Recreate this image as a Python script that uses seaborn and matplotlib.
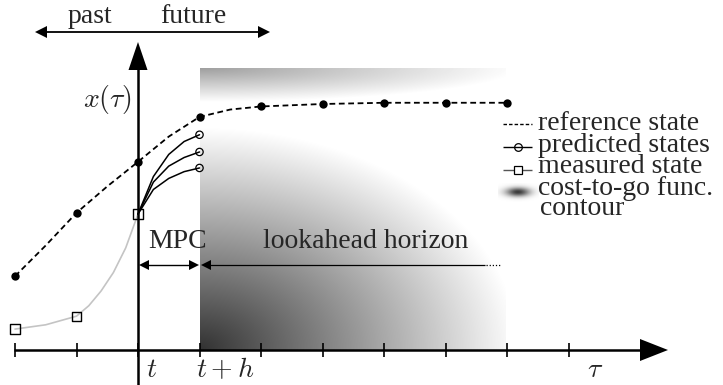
import numpy as np
import matplotlib
matplotlib.use("Agg")
import matplotlib.pyplot as plt
from matplotlib.lines import Line2D
from matplotlib.patches import Polygon
from matplotlib.transforms import Affine2D
import seaborn as sns

# ---- data: time in sampling steps relative to t, state in arbitrary units ----
ref_tau = [-2, -1, 0, 1, 2, 3, 4, 5, 6]
ref_state = [1.20, 2.23, 3.06, 3.79, 3.96, 4.00, 4.02, 4.02, 4.02]
ref_curve_tau = [-2, -1.5, -1, -0.5, 0, 0.5, 1, 1.5, 2, 3, 4, 5, 6]
ref_curve_state = [1.20, 1.70, 2.23, 2.66, 3.06, 3.47, 3.79, 3.91, 3.96, 4.00, 4.02, 4.02, 4.02]

pred_tau = [0, 0.25, 0.5, 0.75, 1]
pred_high = [2.21, 2.82, 3.18, 3.39, 3.50]
pred_mid = [2.21, 2.73, 2.99, 3.13, 3.22]
pred_low = [2.21, 2.61, 2.79, 2.90, 2.96]

meas_tau = [-2, -1, 0]
meas_state = [0.34, 0.55, 2.21]
meas_curve_tau = [-2, -1.5, -1, -0.8, -0.6, -0.4, -0.2, 0]
meas_curve_state = [0.34, 0.41, 0.55, 0.72, 0.96, 1.26, 1.66, 2.21]

tick_tau = [-2, -1, 0, 1, 2, 3, 4, 5, 6, 7]

legend_labels = ["reference state", "predicted states", "measured state",
                 "cost-to-go func.", "contour"]

# ---- figure setup ----
sns.set_theme(style="white")
plt.rcParams["font.family"] = ["Liberation Serif", "DejaVu Serif"]
plt.rcParams["mathtext.fontset"] = "cm"

W, H = 723, 385
fig = plt.figure(figsize=(W / 100, H / 100), dpi=100)
ax = fig.add_axes([0, 0, 1, 1])
ax.axis("off")

# one time step = 61.5 px; origin (t, 0) sits at pixel (138, 350)
STEP, OX, OY = 61.5, 138, 350
def X(p):
    return (p - OX) / STEP
def Y(p):
    return (OY - p) / STEP

# pixel transform (y down) for annotations
pix = Affine2D().scale(1 / W, -1 / H).translate(0, 1) + fig.transFigure

def seg(x0, y0, x1, y1, lw=1.0, color="black", ls="-", z=6):
    ax.add_line(Line2D([x0, x1], [y0, y1], transform=pix, lw=lw, color=color,
                       ls=ls, zorder=z, clip_on=False, solid_capstyle="butt"))

def head(tx, ty, dx, dy, length, width, z=7):
    n = np.hypot(dx, dy)
    ux, uy = dx / n, dy / n
    bx, by = tx - ux * length, ty - uy * length
    px_, py_ = -uy * width / 2, ux * width / 2
    ax.add_patch(Polygon([[tx, ty], [bx + px_, by + py_], [bx - px_, by - py_]],
                         closed=True, transform=pix, color="black", lw=0,
                         zorder=z, clip_on=False))

# ---- cost-to-go gradient ----
xs = np.arange(200, 506) + 0.5
ys = np.arange(68, 350) + 0.5
GX, GY = np.meshgrid(xs, ys)
main = 50 + 205 * np.sqrt(((GX - 200) / 320) ** 2 + ((GY - 350) / 222) ** 2)
strip = 158 + 97 * np.sqrt(((GX - 200) / 320) ** 2 + ((GY - 68) / 34) ** 2)
img = np.clip(np.minimum(main, strip), 0, 255)
ax.imshow(img, cmap="gray", vmin=0, vmax=255, aspect="auto", origin="upper",
          interpolation="bilinear", extent=(X(200), X(506), Y(350), Y(68)), zorder=0)

# ---- trajectories ----
sns.lineplot(x=meas_curve_tau, y=meas_curve_state, ax=ax, color="#c4c4c4", lw=1.2,
             sort=False, zorder=3)
sns.lineplot(x=ref_curve_tau, y=ref_curve_state, ax=ax, color="black", lw=1.3,
             linestyle=(0, (3.2, 2.0)), sort=False, zorder=3)
for pv in (pred_high, pred_mid, pred_low):
    sns.lineplot(x=pred_tau, y=pv, ax=ax, color="black", lw=1.1, sort=False, zorder=3)

sns.scatterplot(x=ref_tau, y=ref_state, ax=ax, color="black", s=36, linewidth=0, zorder=5)
sns.scatterplot(x=[pred_tau[-1]] * 3, y=[pred_high[-1], pred_mid[-1], pred_low[-1]],
                ax=ax, marker="o", s=28, zorder=5)
ax.collections[-1].set_facecolor("none")
ax.collections[-1].set_edgecolor("black")
ax.collections[-1].set_linewidth(0.9)
sns.scatterplot(x=meas_tau, y=meas_state, ax=ax, marker="s", s=44, zorder=5)
ax.collections[-1].set_facecolor("none")
ax.collections[-1].set_edgecolor("black")
ax.collections[-1].set_linewidth(1.0)

# ---- axes drawn as arrows ----
seg(14, 350, 642, 350, lw=1.8, z=6)
head(668, 350, 1, 0, 28, 22)
ax.vlines(tick_tau, -7 / STEP, 7 / STEP, color="black", lw=1.2, zorder=6)
seg(138, 385, 138, 68, lw=1.8, z=6)
head(138, 42, 0, -1, 28, 19)

# past / future arrow
seg(45, 32, 260, 32, lw=1.3)
head(35, 32, -1, 0, 12, 12)
head(270, 32, 1, 0, 12, 12)
ax.text(89.5, 23, "past", transform=pix, fontsize=20, ha="center", va="baseline")
ax.text(193.5, 23, "future", transform=pix, fontsize=20, ha="center", va="baseline")

# MPC and lookahead arrows
seg(147, 265, 191, 265, lw=1.0)
head(139, 265, -1, 0, 10, 10)
head(199, 265, 1, 0, 10, 10)
seg(208, 265, 485, 265, lw=0.9)
head(201, 265, -1, 0, 10, 10)
seg(486, 265, 500, 265, lw=0.9, ls=(0, (1, 1.5)))
ax.text(178, 248, "MPC", transform=pix, fontsize=20, ha="center", va="baseline")
ax.text(263, 248, "lookahead horizon", transform=pix, fontsize=20, ha="left",
        va="baseline")

# axis labels
ax.text(132, 100, r"$x(\tau)$", transform=pix, fontsize=20, ha="right", va="center")
ax.text(146, 377, r"$t$", transform=pix, fontsize=20, ha="left", va="baseline")
ax.text(196, 377, r"$t+h$", transform=pix, fontsize=20, ha="left", va="baseline")
ax.text(595, 377, r"$\tau$", transform=pix, fontsize=20, ha="center", va="baseline")

# ---- legend ----
seg(503, 124, 532, 124, lw=1.0, ls=(0, (2.5, 1.5)))
seg(503, 147, 532, 147, lw=1.0)
ax.add_line(Line2D([518], [147], transform=pix, marker="o", ms=5.5, mfc="none",
                   mec="black", mew=0.9, ls="none", zorder=7, clip_on=False))
seg(503, 170, 532, 170, lw=1.0, color="#555555")
ax.add_line(Line2D([518], [170], transform=pix, marker="s", ms=6, mfc="white",
                   mec="black", mew=0.9, ls="none", zorder=7, clip_on=False))
ex = np.arange(498, 539) + 0.5
ey = np.arange(183, 202) + 0.5
EX, EY = np.meshgrid(ex, ey)
blob = 255 - 195 * np.exp(-(((EX - 518) / 12) ** 2 + ((EY - 192) / 4.5) ** 2))
ax.imshow(blob, cmap="gray", vmin=0, vmax=255, aspect="auto", origin="upper",
          interpolation="bilinear", extent=(X(498), X(539), Y(202), Y(183)), zorder=2)

ax.text(538, 130, legend_labels[0], transform=pix, fontsize=20, va="baseline")
ax.text(538, 152, legend_labels[1], transform=pix, fontsize=20, va="baseline")
ax.text(538, 173, legend_labels[2], transform=pix, fontsize=20, va="baseline")
ax.text(538, 195, legend_labels[3], transform=pix, fontsize=20, va="baseline")
ax.text(540, 215, legend_labels[4], transform=pix, fontsize=20, va="baseline")

ax.set_xlim(X(0), X(W))
ax.set_ylim(Y(H), Y(0))

fig.savefig("out.png", dpi=100)
